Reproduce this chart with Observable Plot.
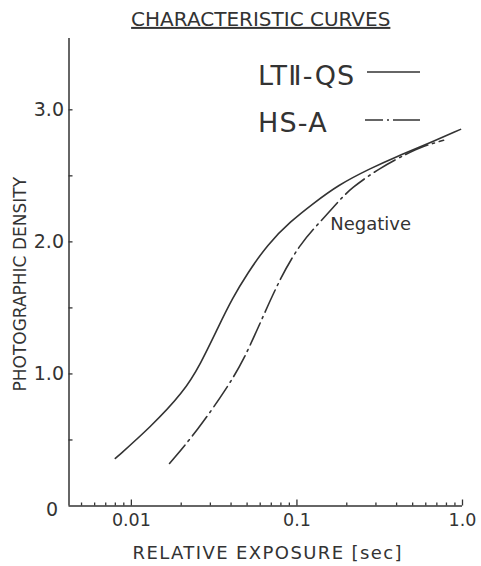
<!DOCTYPE html>
<html><head><meta charset="utf-8">
<script src="https://cdn.jsdelivr.net/npm/d3@7"></script>
<script src="https://cdn.jsdelivr.net/npm/@observablehq/plot@0.6"></script>
<style>body{margin:0;background:#fff}</style>
</head><body><div id="chart"></div>
<script>
const titleText = "CHARACTERISTIC CURVES";
const xLabel = "RELATIVE EXPOSURE [sec]";
const yLabel = "PHOTOGRAPHIC DENSITY";
const seriesNames = ["LTⅡ-QS", "HS-A"];
const annotationText = ["Negative"];
const annotationExposure = [0.159];
const annotationDensity = [2.13];

const ltExposure = [0.0080, 0.0130, 0.0206, 0.0261, 0.0336, 0.0407, 0.0502, 0.0664, 0.0914, 0.126, 0.176, 0.278, 0.405, 0.557, 0.973];
const ltDensity  = [0.360, 0.595, 0.860, 1.072, 1.360, 1.572, 1.761, 1.981, 2.155, 2.292, 2.428, 2.557, 2.648, 2.720, 2.852];

const hsExposure = [0.0170, 0.0251, 0.0380, 0.0475, 0.0602, 0.0795, 0.105, 0.139, 0.176, 0.211, 0.320, 0.466, 0.573, 0.768];
const hsDensity  = [0.322, 0.572, 0.898, 1.102, 1.390, 1.731, 1.989, 2.155, 2.299, 2.405, 2.564, 2.670, 2.723, 2.769];

const xDomain = [0.0042, 1.0];
const yDomain = [0, 3.54];
const xMajorTicks = [0.01, 0.1, 1.0];
const xMajorLabels = ["0.01", "0.1", "1.0"];
const xMinorTicks = [0.005, 0.006, 0.007, 0.008, 0.009, 0.02, 0.03, 0.04, 0.05, 0.06, 0.07, 0.08, 0.09, 0.2, 0.3, 0.4, 0.5, 0.6, 0.7, 0.8, 0.9];
const yAllTicks = [0.5, 1, 1.5, 2, 2.5, 3];
const yMajorTicks = [1, 2, 3];
const yMajorLabels = ["1.0", "2.0", "3.0"];
const yZeroLabel = ["0"];

const ink = "#333";
const lt = ltExposure.map((x, i) => ({x, y: ltDensity[i]}));
const hs = hsExposure.map((x, i) => ({x, y: hsDensity[i]}));
const notes = annotationText.map((t, i) => ({t, x: annotationExposure[i], y: annotationDensity[i]}));

function legend(index, scales, values, dims) {
  const g = d3.create("svg:g")
    .attr("font-family", "DejaVu Sans, sans-serif")
    .attr("font-size", 27)
    .attr("letter-spacing", 1.2)
    .attr("text-anchor", "start")
    .attr("fill", ink);
  const right = dims.width - dims.marginRight;
  const rows = [
    {name: seriesNames[0], base: dims.marginTop + 47, line: dims.marginTop + 34, dash: null, x0: right - 95},
    {name: seriesNames[1], base: dims.marginTop + 94, line: dims.marginTop + 82, dash: "18,4,2,4,60", x0: right - 97}
  ];
  for (const r of rows) {
    g.append("text").attr("x", right - 204).attr("y", r.base).attr("text-anchor", "start").text(r.name);
    g.append("line").attr("x1", r.x0).attr("x2", right - 42)
      .attr("y1", r.line).attr("y2", r.line)
      .attr("stroke", ink).attr("stroke-width", 1.6)
      .attr("stroke-dasharray", r.dash);
  }
  return g.node();
}

const chart = Plot.plot({
  width: 481,
  height: 566,
  marginLeft: 68.5,
  marginRight: 19,
  marginTop: 38,
  marginBottom: 60.5,
  style: {background: "white", color: ink, fontFamily: "DejaVu Sans, sans-serif", fontSize: "17px"},
  x: {type: "log", domain: xDomain, label: null},
  y: {domain: yDomain, label: null},
  marks: [
    Plot.ruleX([xDomain[0]], {stroke: ink, strokeWidth: 1.5}),
    Plot.ruleY([0], {stroke: ink, strokeWidth: 1.5}),
    Plot.axisY(yAllTicks, {tickSize: -4, tickFormat: () => "", label: null, stroke: ink, strokeWidth: 1.3}),
    Plot.axisY(yMajorTicks, {tickSize: 0, tickPadding: 5, tickFormat: d => yMajorLabels[yMajorTicks.indexOf(d)], label: null, fontSize: 19, fill: ink}),
    Plot.axisY([0], {tickSize: 0, tickPadding: 11, dy: 4, tickFormat: () => yZeroLabel[0], label: null, fontSize: 19, fill: ink}),
    Plot.axisX(xMinorTicks, {tickSize: -3, tickFormat: () => "", label: null, stroke: ink, strokeWidth: 1.3}),
    Plot.axisX(xMajorTicks, {tickSize: -6, tickPadding: 14, tickFormat: d => xMajorLabels[xMajorTicks.indexOf(d)], label: null, fontSize: 17.5, fill: ink, stroke: ink, strokeWidth: 1.3}),
    Plot.line(lt, {x: "x", y: "y", stroke: ink, strokeWidth: 1.6, curve: "basis"}),
    Plot.line(hs, {x: "x", y: "y", stroke: ink, strokeWidth: 1.6, curve: "basis", strokeDasharray: "24,5,2,5"}),
    Plot.text(notes, {x: "x", y: "y", text: "t", textAnchor: "start", fontSize: 18, fill: ink}),
    Plot.text([titleText], {frameAnchor: "top", text: d => d, textAnchor: "middle", lineAnchor: "middle", dx: -5, dy: -19, fontSize: 20, fill: ink}),
    Plot.text([yLabel], {frameAnchor: "left", text: d => d, textAnchor: "middle", lineAnchor: "middle", rotate: -90, dx: -48, dy: 12, fontSize: 17, fill: ink}),
    Plot.text([xLabel], {frameAnchor: "bottom", text: d => d, textAnchor: "middle", lineAnchor: "middle", dx: 2, dy: 47.5, fontSize: 18, fill: ink}),
    legend
  ]
});
d3.select(chart).selectAll("text").filter(function() { return this.textContent === titleText; })
  .attr("text-decoration", "underline");
d3.select(chart).selectAll("text").filter(function() { return this.textContent === xLabel; })
  .attr("letter-spacing", 1.4);
document.getElementById("chart").appendChild(chart);
</script>
</body></html>
